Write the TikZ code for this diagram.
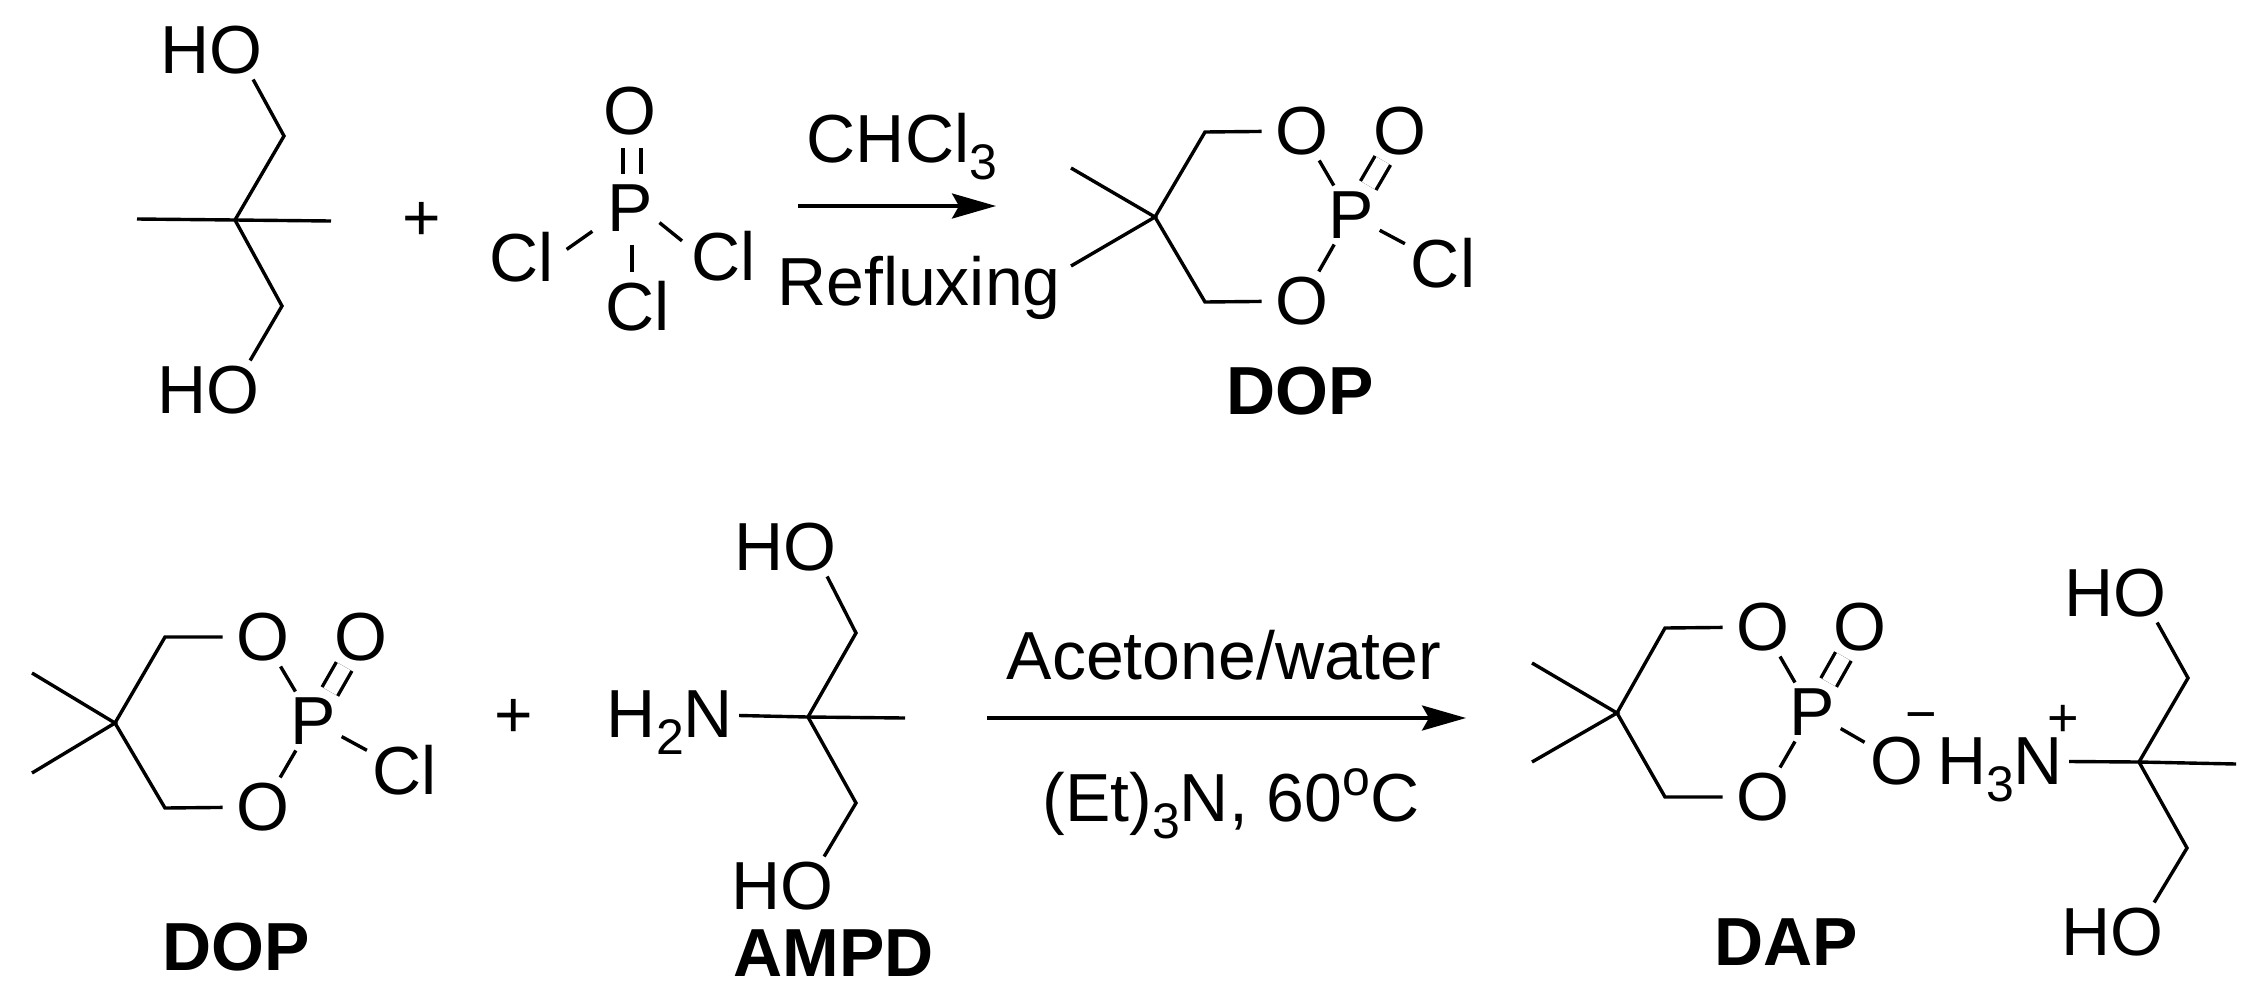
\documentclass[tikz,border=0pt]{standalone}
\usepackage{fontspec}
\setmainfont{Liberation Sans}
\usetikzlibrary{arrows.meta}
\newcommand{\subs}[1]{\raisebox{-17pt}{\fontsize{50}{50}\selectfont #1}}
\newcommand{\sups}[1]{\raisebox{26pt}{\fontsize{50}{50}\selectfont #1}}
\begin{document}
\begin{tikzpicture}[x=1pt, y=-1pt, line width=3.4pt, >={Stealth[length=44pt,width=25pt,inset=7pt]},
    atom/.style={inner sep=6pt, outer sep=0pt, text height=47pt, text depth=0pt, font=\fontsize{68}{72}\selectfont},
    title/.style={atom, font=\fontsize{68}{72}\selectfont\bfseries},
    charge/.style={inner sep=0pt, outer sep=0pt, text height=0pt, text depth=0pt, font=\fontsize{54}{54}\selectfont},
    plussign/.style={inner sep=0pt, outer sep=0pt, font=\fontsize{66}{66}\selectfont},
    dbl/.style={double, double distance=14.4pt},
    ringarm/.style={shorten <=8pt, shorten >=8pt}]
    \useasboundingbox (0,0) rectangle (2261,999);

    % Nodes: first reaction
    \node (hoa) [atom] at (211,50) {HO};
    \node (hob) [atom] at (208,390) {HO};
    \coordinate (ca) at (235,220);
    \coordinate (cb) at (284,136);
    \coordinate (cc) at (282,306);
    \coordinate (mea) at (137,219);
    \coordinate (meb) at (331,221);
    \node (plusa) [plussign] at (422,221) {+};
    \node (oa) [atom] at (630,111) {O};
    \node (pa) [atom] at (630,208) {P};
    \node (cla) [atom] at (522,258) {Cl};
    \node (clb) [atom] at (724,257) {Cl};
    \node (clc) [atom] at (638,307) {Cl};
    \node (chcl) [atom] at (902,139) {CHCl\subs{3}};
    \node (reflux) [atom] at (919,282) {Refluxing};
    \coordinate (arra) at (798,206);
    \coordinate (arrb) at (996,206);
    \coordinate (cd) at (1155,217);
    \coordinate (ce) at (1205,132);
    \coordinate (cf) at (1205,302);
    \coordinate (mec) at (1071,168);
    \coordinate (med) at (1071,266);
    \node (ob) [atom] at (1302,131) {O};
    \node (oc) [atom] at (1302,301) {O};
    \node (od) [atom] at (1400,131) {O};
    \node (pb) [atom] at (1351,215) {P};
    \node (cld) [atom] at (1443,264) {Cl};
    \node (dopa) [title] at (1300,391) {DOP};

    % Nodes: second reaction
    \coordinate (cg) at (115,723);
    \coordinate (ch) at (165,637);
    \coordinate (ci) at (165,808);
    \coordinate (mee) at (32,673);
    \coordinate (mef) at (32,773);
    \node (oe) [atom] at (263,637) {O};
    \node (of) [atom] at (263,807) {O};
    \node (og) [atom] at (361,637) {O};
    \node (pc) [atom] at (313,721) {P};
    \node (cle) [atom] at (405,771) {Cl};
    \node (dopb) [title] at (236,947) {DOP};
    \node (plusb) [plussign] at (514,718) {+};
    \node (hna) [atom] at (670,714) {H\subs{2}N};
    \coordinate (cj) at (808,717);
    \coordinate (ck) at (856,633);
    \coordinate (cl) at (856,803);
    \coordinate (meg) at (905,718);
    \node (hoc) [atom] at (785,547) {HO};
    \node (hod) [atom] at (782,886) {HO};
    \node (ampd) [title] at (834,953) {AMPD};
    \node (acet) [atom] at (1224,656) {Acetone/water};
    \node (etn) [atom] at (1231,798) {(Et)\subs{3}N, 60\sups{o}C};
    \coordinate (arrc) at (987,718);
    \coordinate (arrd) at (1466,718);
    \coordinate (cm) at (1617,713);
    \coordinate (cn) at (1665,628);
    \coordinate (co) at (1665,797);
    \coordinate (meh) at (1532,663);
    \coordinate (mei) at (1532,762);
    \node (oh) [atom] at (1763,627) {O};
    \node (oi) [atom] at (1763,797) {O};
    \node (oj) [atom] at (1860,627) {O};
    \node (pd) [atom] at (1812,712) {P};
    \node (ok) [atom] at (1897,761) {O};
    \node (minus) [charge] at (1921,732) {−};
    \node (hnb) [atom] at (2000,761) {H\subs{3}N};
    \node (plusc) [charge] at (2063,736) {+};
    \coordinate (cp) at (2139,762);
    \coordinate (cq) at (2188,678);
    \coordinate (cr) at (2187,848);
    \coordinate (mej) at (2236,764);
    \node (hoe) [atom] at (2115,593) {HO};
    \node (hof) [atom] at (2112,932) {HO};
    \node (dap) [title] at (1786,942) {DAP};

    % Edges: first reaction
    \draw (mea) -- (ca) -- (meb);
    \draw (hoa.-35) -- (cb) -- (ca) -- (cc) -- (hob.35);
    \draw[dbl, shorten <=5pt, shorten >=7pt] ([xshift=2pt]pa.north) -- ([xshift=2pt]oa.south);
    \draw[shorten <=11pt, shorten >=8pt] ([yshift=-17pt]pa.west) -- ([yshift=4pt]cla.east);
    \draw[shorten <=1pt, shorten >=5pt] ([yshift=-14pt]pa.east) -- ([yshift=13pt]clb.west);
    \draw[shorten <=7pt, shorten >=6pt] ([xshift=2pt]pa.south) -- ([xshift=-6pt]clc.north);
    \draw[->] (arra) -- (arrb);
    \draw (mec) -- (cd) -- (med);
    \draw[ringarm] (ob) -- (ce) -- (cd) -- (cf) -- (oc);
    \draw (ob) -- (pb);
    \draw (oc) -- (pb);
    \draw[dbl] (pb) -- (od);
    \draw (pb) -- (cld);

    % Edges: second reaction
    \draw (mee) -- (cg) -- (mef);
    \draw[ringarm] (oe) -- (ch) -- (cg) -- (ci) -- (of);
    \draw (oe) -- (pc);
    \draw (of) -- (pc);
    \draw[dbl] (pc) -- (og);
    \draw (pc) -- (cle);
    \draw (hna) -- (cj) -- (meg);
    \draw (hoc.-35) -- (ck) -- (cj) -- (cl) -- (hod.35);
    \draw[->] (arrc) -- (arrd);
    \draw (meh) -- (cm) -- (mei);
    \draw[ringarm] (oh) -- (cn) -- (cm) -- (co) -- (oi);
    \draw (oh) -- (pd);
    \draw (oi) -- (pd);
    \draw[dbl] (pd) -- (oj);
    \draw (pd) -- (ok);
    \draw (hnb) -- (cp) -- (mej);
    \draw (hoe.-35) -- (cq) -- (cp) -- (cr) -- (hof.35);
\end{tikzpicture}
\end{document}
